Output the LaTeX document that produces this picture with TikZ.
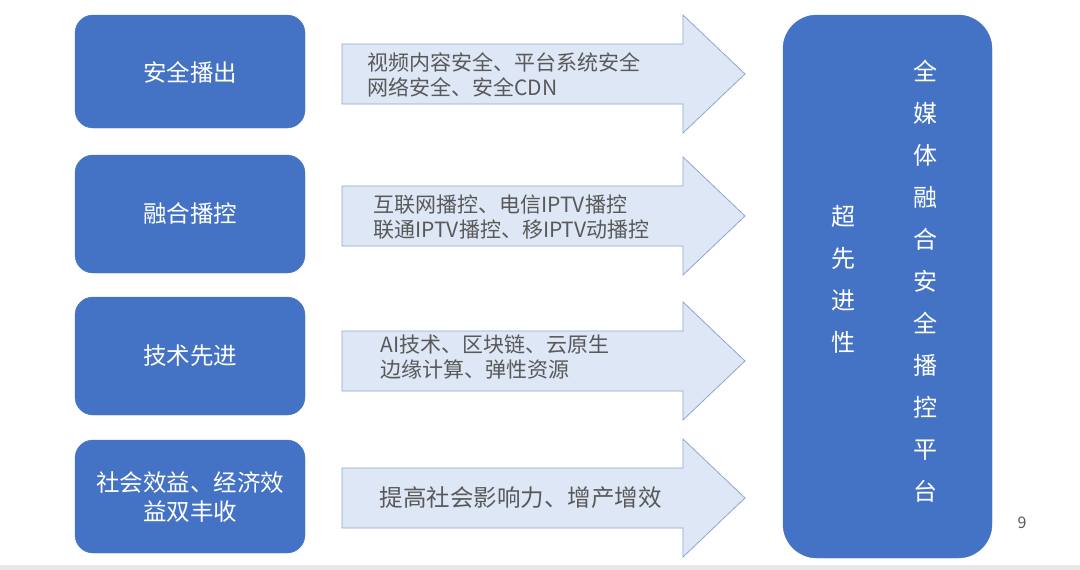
\documentclass[tikz,border=0pt]{standalone}
\usepackage{fontspec}
\setmainfont{Noto Sans CJK SC}
\usepackage{xcolor}
\usepackage{tikz}

\definecolor{boxblue}{HTML}{4472C4}
\definecolor{arrowfill}{HTML}{DEE7F5}
\definecolor{arrowline}{HTML}{8FA6D2}
\definecolor{textgray}{HTML}{595959}
\definecolor{stripgray}{HTML}{E7E7E7}

\tikzset{
  leftbox/.style={fill=boxblue, draw=boxblue, rounded corners=18pt},
  lefttext/.style={text=white, font=\fontsize{23.5}{29}\selectfont, align=center},
  arrowshape/.style={fill=arrowfill, draw=arrowline, line width=0.8pt},
  arrowtext/.style={text=textgray, font=\fontsize{21}{25}\selectfont, align=left, anchor=west},
  columntext/.style={text=white, font=\fontsize{24}{42}\selectfont, align=center}
}

\begin{document}
\begin{tikzpicture}[x=1pt,y=-1pt]
\useasboundingbox (0,0) rectangle (1080,570);
\fill[white] (0,0) rectangle (1080,570);

% bottom strip
\fill[stripgray] (0,565) rectangle (1080,570);

% left boxes
\draw[leftbox] (75,15) rectangle (305,128);
\draw[leftbox] (75,155) rectangle (305,273);
\draw[leftbox] (75,297) rectangle (305,415);
\draw[leftbox] (75,440) rectangle (305,553);

\node[lefttext] (broadcast) at (190,72) {安全播出};
\node[lefttext] (fusion) at (190,214) {融合播控};
\node[lefttext] (tech) at (190,356) {技术先进};
\node[lefttext] (benefit) at (190,497) {社会效益、经济效\\益双丰收};

% arrows
\foreach \yc in {74,216,361,498}
  \draw[arrowshape] (342,\yc-30) -- (683,\yc-30) -- (683,\yc-59) -- (745,\yc)
    -- (683,\yc+59) -- (683,\yc+30) -- (342,\yc+30) -- cycle;

\node[arrowtext] (safety) at (364,75) {视频内容安全、平台系统安全\\网络安全、安全CDN};
\node[arrowtext] (control) at (370,217) {互联网播控、电信IPTV播控\\联通IPTV播控、移IPTV动播控};
\node[arrowtext] (newtech) at (377,357) {AI技术、区块链、云原生\\边缘计算、弹性资源};
\node[arrowtext, font=\fontsize{23.5}{28}\selectfont] (impact) at (376,498) {提高社会影响力、增产增效};

% right platform box
\draw[leftbox, rounded corners=34pt] (783,15) rectangle (992,558);
\node[columntext] (advanced) at (843,279) {超\\先\\进\\性};
\node[columntext] (platform) at (925,281) {全\\媒\\体\\融\\合\\安\\全\\播\\控\\平\\台};

% page number
\node[text=textgray, font=\fontsize{16}{18}\selectfont] (page) at (1022,523) {9};
\end{tikzpicture}
\end{document}
